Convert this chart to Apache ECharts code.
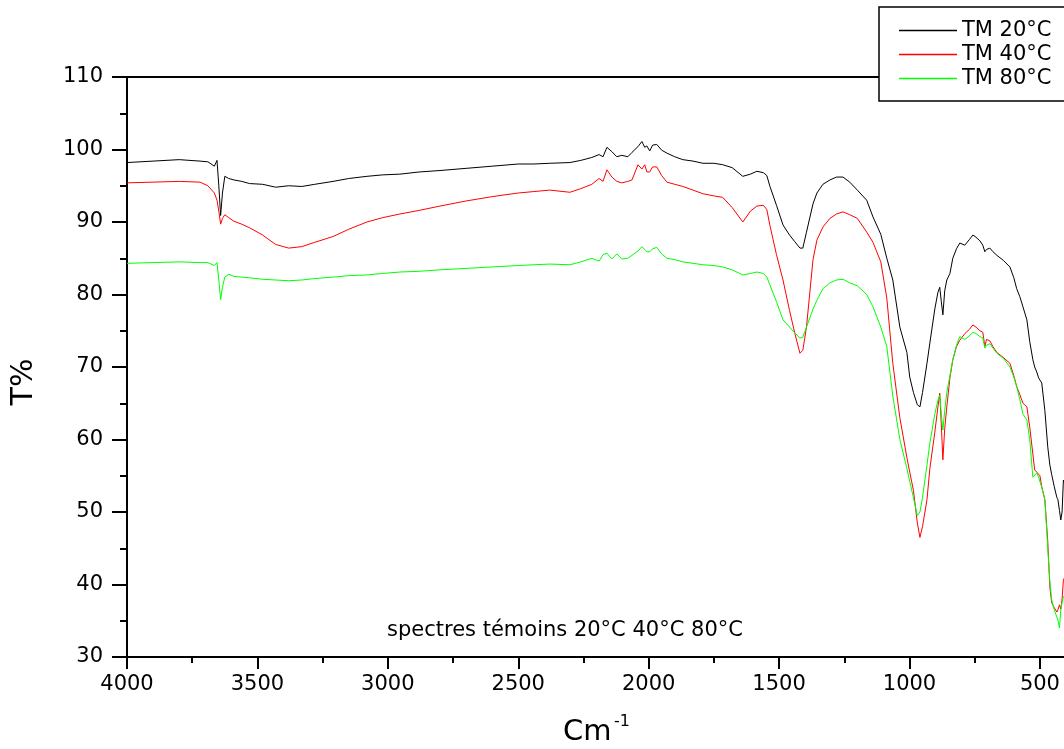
<!DOCTYPE html>
<html>
<head>
<meta charset="utf-8">
<script src="https://cdn.jsdelivr.net/npm/echarts@6/dist/echarts.min.js"></script>
<style>
html, body { margin: 0; padding: 0; background: #fff; }
#chart { width: 1064px; height: 749px; }
</style>
</head>
<body>
<div id="chart"></div>
<script>
// wavenumbers (cm-1), shared by the three spectra
var wavenumbers = [
  4000, 3900, 3800, 3720, 3690, 3665, 3655, 3648, 3641, 3634,
  3625, 3610, 3590, 3560, 3530, 3480, 3430, 3380, 3330, 3280,
  3210, 3150, 3080, 3020, 2954, 2880, 2800, 2700, 2600, 2500,
  2440, 2379, 2302, 2260, 2218, 2190, 2175, 2160, 2141, 2122,
  2103, 2080, 2064, 2041, 2026, 2015, 2007, 1996, 1985, 1969,
  1950, 1930, 1900, 1869, 1830, 1792, 1750, 1716, 1680, 1639,
  1610, 1585, 1560, 1547, 1535, 1510, 1485, 1460, 1440, 1420,
  1409, 1395, 1370, 1355, 1332, 1305, 1280, 1255, 1229, 1200,
  1164, 1140, 1110, 1087, 1064, 1037, 1010, 999, 985, 970,
  960, 950, 933, 922, 903, 891, 884, 878, 872, 865,
  857, 845, 834, 820, 807, 788, 770, 757, 745, 730,
  719, 711, 705, 700, 692, 680, 665, 640, 615, 600,
  589, 577, 565, 550, 539, 527, 520, 512, 505, 500,
  493, 481, 470, 462, 455, 445, 435, 431, 425, 420,
  415, 410, 405
];

// T% for TM 20°C
var t20 = [
  98.2, 98.4, 98.6, 98.4, 98.3, 97.7, 98.5, 95.0, 90.9, 94.0,
  96.3, 96.0, 95.8, 95.6, 95.3, 95.2, 94.8, 95.0, 94.9, 95.2,
  95.6, 96.0, 96.3, 96.5, 96.6, 96.9, 97.1, 97.4, 97.7, 98.0,
  98.0, 98.1, 98.2, 98.5, 98.9, 99.3, 99.0, 100.3, 99.7, 99.0,
  99.2, 99.0, 99.6, 100.4, 101.1, 100.3, 100.5, 99.8, 100.6, 100.7,
  99.9, 99.5, 99.0, 98.6, 98.4, 98.1, 98.1, 97.9, 97.5, 96.3,
  96.6, 97.0, 96.8, 96.4, 94.9, 92.3, 89.6, 88.2, 87.3, 86.4,
  86.4, 88.6, 92.5, 94.0, 95.2, 95.8, 96.2, 96.2, 95.5, 94.4,
  93.0, 90.7, 88.3, 85.0, 82.0, 75.5, 72.0, 68.6, 66.5, 64.8,
  64.5, 66.5, 70.5, 73.3, 78.0, 80.3, 81.0, 79.0, 77.2, 80.5,
  82.0, 82.9, 85.0, 86.3, 87.1, 86.8, 87.6, 88.2, 87.9, 87.4,
  86.8, 85.9, 86.2, 86.4, 86.4, 85.9, 85.4, 84.7, 83.8, 82.3,
  80.8, 79.7, 78.3, 76.5, 73.5, 71.0, 70.0, 69.3, 68.5, 68.2,
  67.8, 64.0, 59.0, 56.5, 55.2, 53.5, 52.0, 51.7, 50.2, 48.9,
  50.0, 54.4, 54.0
];

// T% for TM 40°C
var t40 = [
  95.4, 95.5, 95.6, 95.5, 95.0, 94.0, 93.0, 91.5, 89.7, 90.5,
  91.0, 90.6, 90.1, 89.7, 89.2, 88.2, 86.9, 86.4, 86.6, 87.2,
  88.0, 89.0, 90.0, 90.6, 91.1, 91.6, 92.2, 92.9, 93.5, 94.0,
  94.2, 94.4, 94.1, 94.6, 95.2, 96.0, 95.6, 97.2, 96.2, 95.6,
  95.4, 95.6, 95.8, 97.9, 97.3, 97.9, 96.9, 96.9, 97.6, 97.6,
  96.4, 95.5, 95.2, 94.9, 94.4, 93.9, 93.6, 93.4, 92.0, 90.0,
  91.5, 92.2, 92.3, 91.7, 89.5, 85.5, 82.0, 77.8, 74.7, 71.9,
  72.3, 75.5, 84.8, 87.5, 89.3, 90.5, 91.1, 91.4, 91.0, 90.5,
  88.6, 87.2, 84.5, 79.5, 70.5, 63.0, 57.5, 55.5, 53.0, 48.5,
  46.5, 48.0, 51.7, 56.0, 61.0, 64.5, 66.4, 62.0, 57.2, 61.5,
  64.5, 68.5, 71.0, 72.8, 73.7, 74.6, 75.2, 75.8, 75.5, 75.0,
  74.8, 72.8, 73.8, 74.0, 73.6, 72.8, 72.0, 71.3, 70.5, 68.8,
  67.3, 66.2, 65.0, 64.5, 61.7, 58.0, 55.8, 55.5, 55.4, 55.0,
  53.5, 51.7, 46.0, 39.7, 37.5, 36.8, 36.2, 36.5, 37.2, 36.6,
  38.0, 40.6, 41.0
];

// T% for TM 80°C
var t80 = [
  84.3, 84.4, 84.5, 84.4, 84.4, 84.0, 84.4, 82.0, 79.3, 81.0,
  82.4, 82.8, 82.5, 82.4, 82.3, 82.1, 82.0, 81.9, 82.0, 82.2,
  82.4, 82.6, 82.7, 82.9, 83.1, 83.2, 83.4, 83.6, 83.8, 84.0,
  84.1, 84.2, 84.1, 84.5, 85.0, 84.6, 85.5, 85.7, 84.9, 85.6,
  84.9, 85.0, 85.4, 86.0, 86.6, 86.2, 85.9, 85.9, 86.3, 86.5,
  85.6, 85.0, 84.8, 84.5, 84.3, 84.1, 84.0, 83.8, 83.4, 82.7,
  82.9, 83.1, 82.9, 82.4, 81.3, 79.0, 76.5, 75.5, 74.7, 74.0,
  74.1, 75.5, 78.0, 79.2, 80.8, 81.6, 82.0, 82.1, 81.6, 81.2,
  80.0, 78.3, 75.5, 72.8, 66.0, 60.0, 56.0, 54.2, 52.0, 49.5,
  50.0, 52.0, 56.5, 59.5, 63.5, 65.4, 66.1, 63.5, 61.3, 64.0,
  66.5, 68.8, 71.0, 73.0, 74.2, 73.8, 74.3, 74.8, 74.6, 74.2,
  74.0, 72.6, 73.0, 73.2, 73.2, 72.6, 71.9, 71.2, 70.0, 68.6,
  67.3, 65.5, 63.5, 62.7, 60.0, 54.8, 55.0, 55.4, 54.8, 54.2,
  53.4, 51.7, 45.0, 40.5, 37.9, 36.5, 35.5, 35.1, 34.0, 36.5,
  37.5, 38.3, 38.5
];

// axis ticks
var xMajorTicks = [4000, 3500, 3000, 2500, 2000, 1500, 1000, 500];
var xMinorTicks = [3750, 3250, 2750, 2250, 1750, 1250, 750];

var seriesNames = ['TM 20°C', 'TM 40°C', 'TM 80°C'];
var seriesColors = ['#000000', '#ff0000', '#00ff00'];
var seriesValues = [t20, t40, t80];

var fontName = 'DejaVu Sans';

function pairs(vals) {
  return wavenumbers.map(function (w, i) { return [w, vals[i]]; });
}

var chart = echarts.init(document.getElementById('chart'));

var series = seriesNames.map(function (name, k) {
  return {
    name: name,
    type: 'line',
    xAxisIndex: 0,
    yAxisIndex: 0,
    symbol: 'none',
    color: seriesColors[k],
    lineStyle: { color: seriesColors[k], width: 1 },
    data: pairs(seriesValues[k])
  };
});

chart.setOption({
  animation: false,
  textStyle: { fontFamily: fontName },
  grid: {
    left: 127, right: -2, top: 77, bottom: 92,
    show: true, borderColor: '#000', borderWidth: 2,
    outerBoundsMode: 'none'
  },
  legend: {
    orient: 'vertical',
    left: 879, top: 7,
    padding: [13, 20, 12, 20],
    itemGap: 3,
    itemWidth: 58,
    itemHeight: 1.5,
    icon: 'rect',
    backgroundColor: '#fff',
    borderColor: '#000',
    borderWidth: 1.5,
    borderRadius: 0,
    textStyle: { fontSize: 21, fontFamily: fontName, color: '#000' },
    data: seriesNames
  },
  xAxis: [
    {
      type: 'value', inverse: true, min: 400, max: 4000,
      position: 'bottom',
      axisLine: { show: true, onZero: false, lineStyle: { color: '#000', width: 2 } },
      axisTick: { show: true, length: 12, customValues: xMajorTicks, lineStyle: { color: '#000', width: 2 } },
      axisLabel: {
        margin: 17, fontSize: 21, fontFamily: fontName, color: '#000',
        customValues: xMajorTicks,
        formatter: function (v) { return String(v); }
      },
      splitLine: { show: false }
    },
    {
      // minor ticks
      type: 'value', inverse: true, min: 400, max: 4000,
      position: 'bottom',
      axisLine: { show: false, onZero: false },
      axisTick: { show: true, length: 6, customValues: xMinorTicks, lineStyle: { color: '#000', width: 2 } },
      axisLabel: { show: false },
      splitLine: { show: false }
    }
  ],
  yAxis: {
    type: 'value', min: 30, max: 110, interval: 10,
    axisLine: { show: true, onZero: false, lineStyle: { color: '#000', width: 2 } },
    axisTick: { show: true, length: 15, lineStyle: { color: '#000', width: 2 } },
    minorTick: { show: true, splitNumber: 2, length: 7, lineStyle: { color: '#000', width: 2 } },
    axisLabel: { margin: 24, fontSize: 21, fontFamily: fontName, color: '#000' },
    splitLine: { show: false }
  },
  graphic: [
    {
      type: 'text', x: 24, y: 382, rotation: Math.PI / 2,
      style: { text: 'T%', font: '30px "DejaVu Sans"', fill: '#000', align: 'center', verticalAlign: 'middle' }
    },
    {
      type: 'text', x: 563, y: 732,
      style: { text: 'Cm', font: '29px "DejaVu Sans"', fill: '#000', align: 'left', verticalAlign: 'middle' }
    },
    {
      type: 'text', x: 614, y: 722,
      style: { text: '-1', font: '16px "DejaVu Sans"', fill: '#000', align: 'left', verticalAlign: 'middle' }
    },
    {
      type: 'text', x: 387, y: 631,
      style: { text: 'spectres témoins 20°C 40°C 80°C', font: '21px "DejaVu Sans"', fill: '#000', align: 'left', verticalAlign: 'middle' }
    }
  ],
  series: series
});
</script>
</body>
</html>
